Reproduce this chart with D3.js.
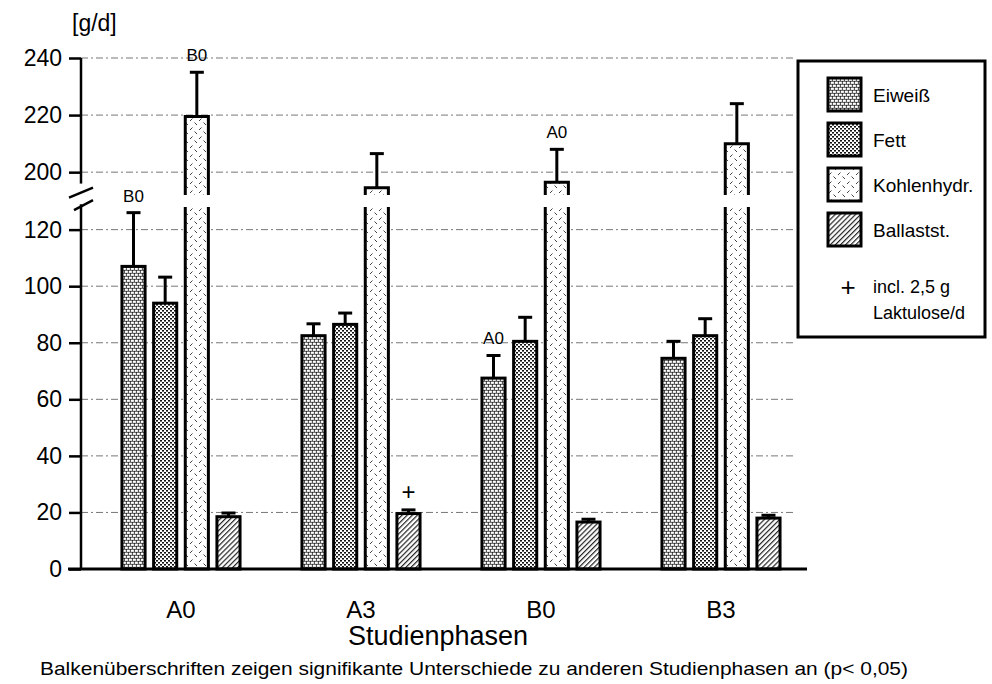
<!DOCTYPE html>
<html>
<head>
<meta charset="utf-8">
<script src="https://cdn.jsdelivr.net/npm/d3@7"></script>
<style>
  body { margin: 0; background: #fff; }
  svg { display: block; font-family: "Liberation Sans", Arial, sans-serif; }
</style>
</head>
<body>
<div id="chart"></div>
<script>
// data
const phases = ["A0", "A3", "B0", "B3"];
const nutrients = ["Eiweiß", "Fett", "Kohlenhydr.", "Ballastst."];
const eiweiss = [107, 82.5, 67.5, 74.5];
const eiweissErr = [19, 4.2, 8, 6];
const fett = [94, 86.5, 80.5, 82.5];
const fettErr = [9.2, 4, 8.5, 6];
const kohlenhydr = [219.5, 194.5, 196.5, 210];
const kohlenhydrErr = [15.5, 12, 11.5, 14];
const ballast = [18.5, 19.6, 16.6, 18];
const ballastErr = [1.3, 1.3, 1, 1];
const lowTicks = [0, 20, 40, 60, 80, 100, 120];
const highTicks = [200, 220, 240];
const sigLabels = [
  { phase: "A0", nutrient: "Eiweiß", text: "B0" },
  { phase: "A0", nutrient: "Kohlenhydr.", text: "B0" },
  { phase: "B0", nutrient: "Eiweiß", text: "A0" },
  { phase: "B0", nutrient: "Kohlenhydr.", text: "A0" }
];
const plusMarks = [{ phase: "A3", nutrient: "Ballastst." }];

const width = 992, height = 684;
const axisX = 81;
const patIds = ["pat-e", "pat-f", "pat-k", "pat-b"];

const series = [eiweiss, fett, kohlenhydr, ballast];
const errs = [eiweissErr, fettErr, kohlenhydrErr, ballastErr];
const rows = [];
phases.forEach((p, i) => nutrients.forEach((n, j) => {
  rows.push({ phase: p, nutrient: n, k: j, value: series[j][i], err: errs[j][i] });
}));

const svg = d3.select("#chart").append("svg")
  .attr("width", width).attr("height", height)
  .attr("viewBox", [0, 0, width, height]);

// patterns
const defs = svg.append("defs");
const pe = defs.append("pattern").attr("id", "pat-e").attr("patternUnits", "userSpaceOnUse").attr("width", 8).attr("height", 6);
pe.append("rect").attr("width", 8).attr("height", 6).attr("fill", "#111");
[[0.7, 0.6, 3.2, 2.3], [4.7, 0.6, 3.2, 2.3], [2.7, 3.6, 3.2, 2.3], [6.7, 3.6, 1.3, 2.3], [0, 3.6, 1.9, 2.3]]
  .forEach(r => pe.append("rect").attr("x", r[0]).attr("y", r[1]).attr("width", r[2]).attr("height", r[3]).attr("fill", "#fff"));

const pf = defs.append("pattern").attr("id", "pat-f").attr("patternUnits", "userSpaceOnUse").attr("width", 4).attr("height", 4);
pf.append("rect").attr("width", 4).attr("height", 4).attr("fill", "#fff");
[[0, 0, 2, 1.6], [2, 2, 2, 1.6]]
  .forEach(r => pf.append("rect").attr("x", r[0]).attr("y", r[1]).attr("width", r[2]).attr("height", r[3]).attr("fill", "#111"));

const pk = defs.append("pattern").attr("id", "pat-k").attr("patternUnits", "userSpaceOnUse").attr("width", 9).attr("height", 9);
pk.append("rect").attr("width", 9).attr("height", 9).attr("fill", "#fff");
pk.append("path").attr("d", "M1,4 L3.5,1.5 M5.5,5.5 L8,8").attr("stroke", "#444").attr("stroke-width", 1).attr("fill", "none");

const pb = defs.append("pattern").attr("id", "pat-b").attr("patternUnits", "userSpaceOnUse").attr("width", 3.6).attr("height", 3.6)
  .attr("patternTransform", "rotate(45)");
pb.append("rect").attr("width", 3.6).attr("height", 3.6).attr("fill", "#fff");
pb.append("line").attr("x1", 0.6).attr("x2", 0.6).attr("y1", 0).attr("y2", 3.6).attr("stroke", "#222").attr("stroke-width", 1.2);

// scales: broken y axis
const yLow = d3.scaleLinear().domain([0, 128]).range([569, 207]);
const yHigh = d3.scaleLinear().domain([192, 240]).range([195, 58]);
const y = v => v >= 192 ? yHigh(v) : yLow(v);

const x0 = d3.scaleBand().domain(phases).range([91, 811]).paddingInner(0.344).paddingOuter(0.172);
const x1 = d3.scaleBand().domain(nutrients).range([0, x0.bandwidth()]).paddingInner(0.27);

// grid
const grid = svg.append("g");
lowTicks.slice(1).forEach(t => grid.append("line").attr("y1", yLow(t)).attr("y2", yLow(t)));
highTicks.forEach(t => grid.append("line").attr("y1", yHigh(t)).attr("y2", yHigh(t)));
grid.selectAll("line").attr("x1", axisX).attr("x2", 795)
  .attr("stroke", "#777").attr("stroke-width", 1).attr("stroke-dasharray", "7,3,2,3");

// axes
function styleAxis(g) {
  g.select(".domain").remove();
  g.selectAll(".tick line").attr("stroke", "#000").attr("stroke-width", 2.5);
  g.selectAll(".tick text").attr("fill", "#000").style("font-size", "23px")
    .style("font-family", "'Liberation Sans', Arial, sans-serif");
}
svg.append("g").attr("transform", `translate(${axisX},0)`)
  .call(d3.axisLeft(yLow).tickValues(lowTicks).tickSize(12).tickPadding(7)).call(styleAxis);
svg.append("g").attr("transform", `translate(${axisX},0)`)
  .call(d3.axisLeft(yHigh).tickValues(highTicks).tickSize(12).tickPadding(7)).call(styleAxis);

const breakTop = yHigh(196), breakBot = yLow(129);
svg.append("line").attr("x1", axisX).attr("x2", axisX).attr("y1", yHigh(240)).attr("y2", breakTop)
  .attr("stroke", "#000").attr("stroke-width", 2.5);
svg.append("line").attr("x1", axisX).attr("x2", axisX).attr("y1", breakBot).attr("y2", yLow(0))
  .attr("stroke", "#000").attr("stroke-width", 2.5);
[breakTop + 10, breakBot + 2].forEach((yy, i) => {
  svg.append("line").attr("x1", axisX - 12 + i * 5).attr("x2", axisX + 12).attr("y1", yy + 4).attr("y2", yy - 6)
    .attr("stroke", "#000").attr("stroke-width", 2.5);
});

svg.append("text").attr("x", 72).attr("y", 31).style("font-size", "23px").text("[g/d]");

// bars
const bars = svg.append("g");
rows.forEach(d => {
  const bx = x0(d.phase) + x1(d.nutrient);
  const bw = x1.bandwidth();
  const fill = `url(#${patIds[d.k]})`;
  const topY = y(d.value);
  const errY = y(d.value + d.err);
  // error bar
  bars.append("line").attr("x1", bx + bw / 2).attr("x2", bx + bw / 2).attr("y1", topY).attr("y2", errY)
    .attr("stroke", "#000").attr("stroke-width", 3);
  bars.append("line").attr("x1", bx + bw / 2 - 7).attr("x2", bx + bw / 2 + 7).attr("y1", errY).attr("y2", errY)
    .attr("stroke", "#000").attr("stroke-width", 3);
  if (d.value >= 192) {
    const lowTop = yLow(128), highBot = yHigh(192);
    bars.append("rect").attr("x", bx).attr("y", lowTop).attr("width", bw).attr("height", yLow(0) - lowTop).attr("fill", fill);
    bars.append("rect").attr("x", bx).attr("y", topY).attr("width", bw).attr("height", highBot - topY).attr("fill", fill);
    bars.append("path")
      .attr("d", `M${bx},${lowTop}V${yLow(0)}H${bx + bw}V${lowTop}M${bx},${highBot}V${topY}H${bx + bw}V${highBot}`)
      .attr("fill", "none").attr("stroke", "#000").attr("stroke-width", 3);
  } else {
    bars.append("rect").attr("x", bx).attr("y", topY).attr("width", bw).attr("height", yLow(0) - topY)
      .attr("fill", fill).attr("stroke", "#000").attr("stroke-width", 3);
  }
});

// baseline
svg.append("line").attr("x1", 68).attr("x2", 807).attr("y1", yLow(0)).attr("y2", yLow(0))
  .attr("stroke", "#000").attr("stroke-width", 3);

// significance labels
function barTip(phase, nutrient) {
  const r = rows.find(d => d.phase === phase && d.nutrient === nutrient);
  return { cx: x0(phase) + x1(nutrient) + x1.bandwidth() / 2, y: y(r.value + r.err) };
}
sigLabels.forEach(s => {
  const t = barTip(s.phase, s.nutrient);
  svg.append("text").attr("x", t.cx).attr("y", t.y - 11).attr("text-anchor", "middle")
    .style("font-size", "17px").text(s.text);
});
plusMarks.forEach(s => {
  const t = barTip(s.phase, s.nutrient);
  svg.append("text").attr("x", t.cx).attr("y", t.y - 10).attr("text-anchor", "middle")
    .style("font-size", "24px").text("+");
});

// x axis labels
const xAxis = svg.append("g").attr("transform", `translate(0,${yLow(0)})`)
  .call(d3.axisBottom(x0).tickSize(0).tickPadding(32));
xAxis.select(".domain").remove();
xAxis.selectAll(".tick text").attr("fill", "#000").style("font-size", "24px")
  .style("font-family", "'Liberation Sans', Arial, sans-serif");

svg.append("text").attr("x", 438).attr("y", 645).attr("text-anchor", "middle")
  .style("font-size", "27px").text("Studienphasen");
svg.append("text").attr("x", 40).attr("y", 675).attr("textLength", 868).attr("lengthAdjust", "spacingAndGlyphs")
  .style("font-size", "19px").text("Balkenüberschriften zeigen signifikante Unterschiede zu anderen Studienphasen an (p< 0,05)");

// legend
const legend = svg.append("g");
legend.append("rect").attr("x", 798).attr("y", 61).attr("width", 187).attr("height", 276)
  .attr("fill", "#fff").attr("stroke", "#000").attr("stroke-width", 3);
nutrients.forEach((n, j) => {
  const ly = 78 + j * 45;
  legend.append("rect").attr("x", 828).attr("y", ly).attr("width", 33).attr("height", 33)
    .attr("fill", `url(#${patIds[j]})`).attr("stroke", "#000").attr("stroke-width", 3);
  legend.append("text").attr("x", 873).attr("y", ly + 24).style("font-size", "19px").text(n);
});
legend.append("text").attr("x", 848).attr("y", 296).attr("text-anchor", "middle").style("font-size", "26px").text("+");
legend.append("text").attr("x", 873).attr("y", 293).style("font-size", "18px").text("incl. 2,5 g");
legend.append("text").attr("x", 873).attr("y", 319).style("font-size", "18px").text("Laktulose/d");
</script>
</body>
</html>
